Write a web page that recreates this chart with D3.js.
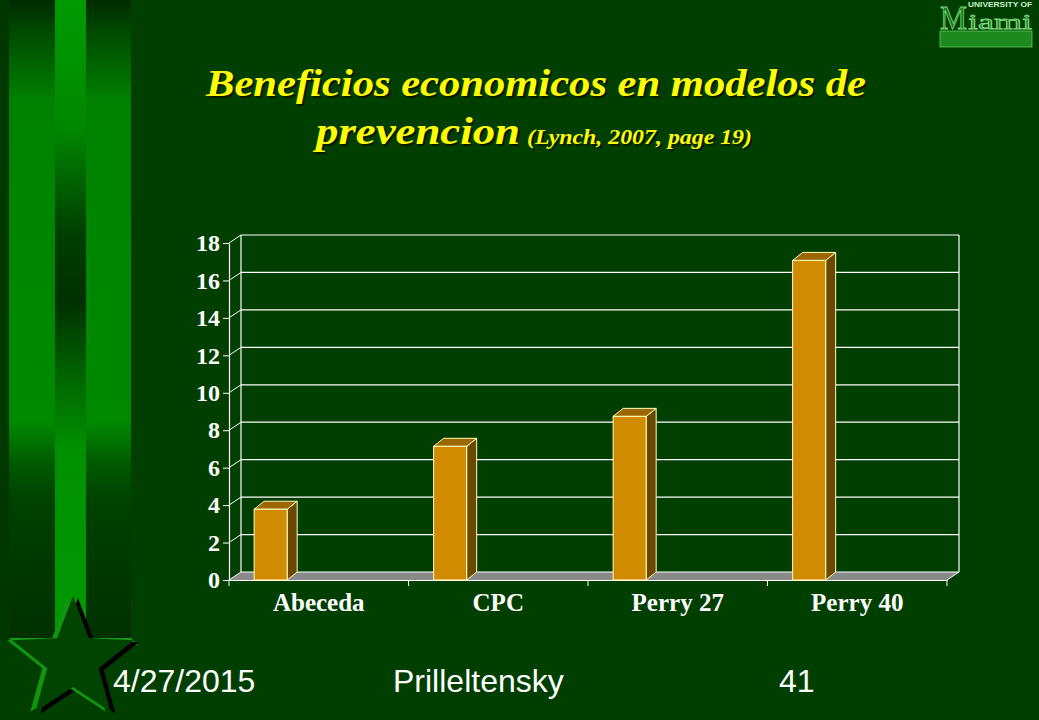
<!DOCTYPE html>
<html>
<head>
<meta charset="utf-8">
<script src="https://cdn.jsdelivr.net/npm/d3@7"></script>
<style>
  html, body { margin: 0; padding: 0; background: #003f00; }
  svg { display: block; }
</style>
</head>
<body>
<script>
// ---- data ----
const categories = ["Abeceda", "CPC", "Perry 27", "Perry 40"];
const values = [3.78, 7.14, 8.74, 17.07];
const yTicks = [0, 2, 4, 6, 8, 10, 12, 14, 16, 18];
const titleLine1 = "Beneficios economicos en modelos de";
const titleLine2Main = "prevencion";
const titleLine2Ref = "(Lynch, 2007, page 19)";
const footerTexts = ["4/27/2015", "Prilleltensky", "41"];

const W = 1039, H = 720;
const svg = d3.select("body").append("svg").attr("width", W).attr("height", H);
const defs = svg.append("defs");

// background
svg.append("rect").attr("width", W).attr("height", H).attr("fill", "#003f00");

// ---- left decorative stripes ----
function vgrad(id, stops) {
  const g = defs.append("linearGradient").attr("id", id)
    .attr("x1", 0).attr("y1", 0).attr("x2", 0).attr("y2", 1);
  stops.forEach(s => g.append("stop").attr("offset", s[0]).attr("stop-color", s[1]));
}
vgrad("outerG", [[0, "#002a00"], [0.05, "#004a00"], [0.16, "#008200"], [0.66, "#008a00"], [0.72, "#005e00"], [0.78, "#004200"], [1, "#003000"]]);
vgrad("centerG", [[0, "#009a00"], [0.2, "#008800"], [0.36, "#004000"], [0.47, "#003000"], [0.6, "#006a00"], [0.7, "#009000"], [1, "#009a00"]]);
svg.append("rect").attr("x", 0).attr("y", 0).attr("width", 9).attr("height", 640).attr("fill", "#003800");
svg.append("rect").attr("x", 9).attr("y", 0).attr("width", 46).attr("height", 638).attr("fill", "url(#outerG)");
svg.append("rect").attr("x", 86).attr("y", 0).attr("width", 45).attr("height", 638).attr("fill", "url(#outerG)");
svg.append("rect").attr("x", 55).attr("y", 0).attr("width", 31).attr("height", 640).attr("fill", "url(#centerG)");
// ledge
svg.append("polygon").attr("points", "9,638 131,638 138,645 15,645").attr("fill", "#1d9a1d");

// star
const cx = 73, cy = 660, R = 64, r = 27;
function starPts(ox, oy) {
  const pts = [];
  for (let i = 0; i < 10; i++) {
    const a = -Math.PI / 2 + i * Math.PI / 5;
    const rr = i % 2 === 0 ? R : r;
    pts.push([cx + ox + rr * Math.cos(a), cy + oy + rr * Math.sin(a)]);
  }
  return pts.map(p => p.join(",")).join(" ");
}
svg.append("polygon").attr("points", starPts(5, 2)).attr("fill", "#000");
svg.append("polygon").attr("points", starPts(-5, 0)).attr("fill", "#119511");
svg.append("polygon").attr("points", starPts(0, 0)).attr("fill", "#004400");

// logo
const logo = svg.append("g").attr("font-family", "Liberation Serif")
  .attr("fill", "#1a7a1a").attr("stroke", "#7fd87f").attr("stroke-width", 0.8);
logo.append("text").attr("x", 940).attr("y", 29).attr("textLength", 27).attr("lengthAdjust", "spacingAndGlyphs")
  .attr("font-size", 33).text("M");
logo.append("text").attr("x", 968).attr("y", 29).attr("textLength", 64).attr("lengthAdjust", "spacingAndGlyphs")
  .attr("font-size", 22).text("iami");
svg.append("text").attr("x", 968).attr("y", 7).attr("textLength", 64).attr("lengthAdjust", "spacingAndGlyphs")
  .attr("font-family", "Liberation Sans").attr("font-weight", "bold").attr("font-size", 7)
  .attr("fill", "#c8f0c8").text("UNIVERSITY OF");
svg.append("rect").attr("x", 940).attr("y", 31).attr("width", 92).attr("height", 16)
  .attr("fill", "#1e8a1e").attr("stroke", "#5cc85c").attr("stroke-width", 0.8);

// ---- title ----
function title(ox, oy, fill) {
  const t = svg.append("g").attr("transform", `translate(${ox},${oy})`)
    .attr("font-family", "Liberation Serif").attr("font-weight", "bold").attr("font-style", "italic")
    .attr("fill", fill);
  t.append("text").attr("x", 206).attr("y", 96).attr("font-size", 37)
    .attr("textLength", 660).attr("lengthAdjust", "spacingAndGlyphs").text(titleLine1);
  t.append("text").attr("x", 316).attr("y", 144).attr("font-size", 37)
    .attr("textLength", 204).attr("lengthAdjust", "spacingAndGlyphs").text(titleLine2Main);
  t.append("text").attr("x", 527).attr("y", 144).attr("font-size", 22)
    .attr("textLength", 225).attr("lengthAdjust", "spacingAndGlyphs").text(titleLine2Ref);
}
title(2, 2, "#0a1a00");
title(0, 0, "#ffff00");

// ---- chart ----
const x = d3.scaleBand().domain(categories).range([229, 947]);
const y = d3.scaleLinear().domain([0, 18]).range([580, 243]);
const wdx = 12, wdy = -8;   // wall depth
const bdx = 10, bdy = -8;   // bar depth
const chart = svg.append("g");

// floor
chart.append("polygon")
  .attr("points", [[229, y(0)], [947, y(0)], [947 + wdx, y(0) + wdy], [229 + wdx, y(0) + wdy]].map(p => p.join(",")).join(" "))
  .attr("fill", "#8a8a8a");

// gridlines on back wall + diagonals
yTicks.forEach(t => {
  chart.append("line").attr("x1", 229 + wdx).attr("x2", 947 + wdx)
    .attr("y1", y(t) + wdy).attr("y2", y(t) + wdy).attr("stroke", "#fff").attr("stroke-width", 1.2);
  chart.append("line").attr("x1", 229).attr("x2", 229 + wdx)
    .attr("y1", y(t)).attr("y2", y(t) + wdy).attr("stroke", "#fff").attr("stroke-width", 1);
});
// back wall verticals
[229 + wdx, 947 + wdx].forEach(xx => {
  chart.append("line").attr("x1", xx).attr("x2", xx).attr("y1", y(18) + wdy).attr("y2", y(0) + wdy)
    .attr("stroke", "#fff").attr("stroke-width", 1.2);
});
// floor right diagonal
chart.append("line").attr("x1", 947).attr("x2", 947 + wdx).attr("y1", y(0)).attr("y2", y(0) + wdy)
  .attr("stroke", "#fff").attr("stroke-width", 1);

// y axis
const yAxis = chart.append("g").attr("transform", "translate(229,0)")
  .call(d3.axisLeft(y).tickValues(yTicks).tickSize(6).tickSizeOuter(0).tickPadding(3));
yAxis.select(".domain").attr("stroke", "#fff").attr("stroke-width", 1.2);
yAxis.selectAll(".tick line").attr("stroke", "#fff");
yAxis.selectAll(".tick text").attr("fill", "#fff").attr("font-family", "Liberation Serif")
  .attr("font-weight", "bold").attr("font-size", 24);

// x axis
const xAxis = chart.append("g").attr("transform", `translate(0,${y(0)})`)
  .call(d3.axisBottom(x).tickSize(0).tickPadding(13));
xAxis.select(".domain").attr("stroke", "#fff").attr("stroke-width", 1.2);
xAxis.selectAll(".tick text").attr("fill", "#fff").attr("font-family", "Liberation Serif")
  .attr("font-weight", "bold").attr("font-size", 25);
const bounds = categories.map(c => x(c)).concat([x.range()[1]]);
chart.selectAll(".xtick").data(bounds).enter().append("line")
  .attr("x1", d => d).attr("x2", d => d).attr("y1", y(0)).attr("y2", y(0) + 6)
  .attr("stroke", "#fff").attr("stroke-width", 1);

// bars
const bw = x.bandwidth() * 0.184;
const boff = x.bandwidth() * 0.14;
const bars = chart.selectAll(".bar").data(categories.map((c, i) => ({ c, v: values[i] }))).enter().append("g");
bars.each(function (d) {
  const g = d3.select(this);
  const x0 = x(d.c) + boff, x1 = x0 + bw, yt = y(d.v), yb = y(0);
  const pts = a => a.map(p => p.join(",")).join(" ");
  g.append("polygon").attr("points", pts([[x1, yb], [x1 + bdx, yb + bdy], [x1 + bdx, yt + bdy], [x1, yt]]))
    .attr("fill", "#6a4800").attr("stroke", "#ffffc0").attr("stroke-width", 1).attr("stroke-linejoin", "round");
  g.append("polygon").attr("points", pts([[x0, yt], [x1, yt], [x1 + bdx, yt + bdy], [x0 + bdx, yt + bdy]]))
    .attr("fill", "#9c6600").attr("stroke", "#ffffc0").attr("stroke-width", 1).attr("stroke-linejoin", "round");
  g.append("rect").attr("x", x0).attr("y", yt).attr("width", bw).attr("height", yb - yt)
    .attr("fill", "#d18b00").attr("stroke", "#ffffc0").attr("stroke-width", 1);
});

// footer
const footX = [113, 393, 779];
footerTexts.forEach((t, i) => {
  svg.append("text").attr("x", footX[i]).attr("y", 692)
    .attr("font-family", "Liberation Sans").attr("font-size", 32).attr("fill", "#fff").text(t);
});
</script>
</body>
</html>
